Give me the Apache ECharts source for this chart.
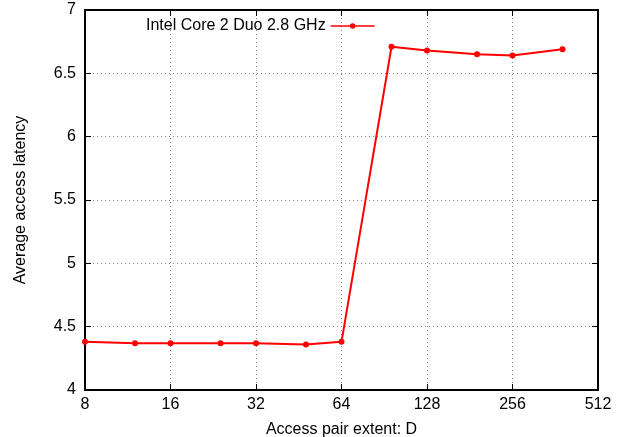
<!DOCTYPE html>
<html>
<head>
<meta charset="utf-8">
<script src="https://cdn.jsdelivr.net/npm/echarts@6/dist/echarts.min.js"></script>
<style>
  html, body { margin: 0; padding: 0; background: #fff; }
  #chart { width: 625px; height: 437px; }
</style>
</head>
<body>
<div id="chart"></div>
<script>
// access pair extent D
var extents = [8, 12, 16, 24, 32, 48, 64, 96, 128, 192, 256, 384];
// average access latency
var latency = [4.38, 4.37, 4.37, 4.37, 4.37, 4.36, 4.38, 6.71, 6.68, 6.65, 6.64, 6.69];
var seriesName = 'Intel Core 2 Duo 2.8 GHz';

var font = 'Liberation Sans, Arial, sans-serif';
var black = '#000';
var fs = 16;

var points = extents.map(function (x, i) {
    return [x, latency[i]];
});

var chart = echarts.init(document.getElementById('chart'));

// 网格线: 灰色点线
var gridLine = { show: true, lineStyle: { color: '#888', type: [1, 3], width: 1 } };
var tick = { show: true, inside: true, length: 6, lineStyle: { color: black, width: 1 } };
var border = { show: true, onZero: false, lineStyle: { color: black, width: 2 } };

chart.setOption({
    animation: false,
    grid: { left: 85, right: 27, top: 10, bottom: 47, outerBoundsMode: 'none', containLabel: false },
    legend: {
        left: 146,
        top: 18,
        padding: 0,
        align: 'right',
        itemWidth: 44,
        itemHeight: 7,
        itemGap: 8,
        lineStyle: { width: 1.5 },
        textStyle: { fontFamily: font, fontSize: fs, color: black },
        data: [seriesName]
    },
    xAxis: [{
        type: 'log',
        logBase: 2,
        min: 8,
        max: 512,
        name: 'Access pair extent: D',
        nameLocation: 'middle',
        nameGap: 32,
        nameTextStyle: { fontFamily: font, fontSize: fs, color: black },
        axisLine: border,
        axisTick: tick,
        axisLabel: { fontFamily: font, fontSize: fs, color: black, margin: 7 },
        splitLine: gridLine
    }, {
        type: 'log',
        logBase: 2,
        min: 8,
        max: 512,
        position: 'top',
        axisLine: border,
        axisTick: tick,
        axisLabel: { show: false },
        splitLine: { show: false }
    }],
    yAxis: [{
        type: 'value',
        min: 4,
        max: 7,
        interval: 0.5,
        name: 'Average access latency',
        nameLocation: 'middle',
        nameGap: 56,
        nameRotate: 90,
        nameTextStyle: { fontFamily: font, fontSize: fs, color: black },
        axisLine: border,
        axisTick: tick,
        axisLabel: { fontFamily: font, fontSize: fs, color: black, margin: 9 },
        splitLine: gridLine
    }, {
        type: 'value',
        min: 4,
        max: 7,
        interval: 0.5,
        position: 'right',
        axisLine: border,
        axisTick: tick,
        axisLabel: { show: false },
        splitLine: { show: false }
    }],
    series: [{
        name: seriesName,
        type: 'line',
        data: points,
        symbol: 'circle',
        symbolSize: 6,
        itemStyle: { color: '#ff0000' },
        lineStyle: { color: '#ff0000', width: 2 }
    }]
});
</script>
</body>
</html>
